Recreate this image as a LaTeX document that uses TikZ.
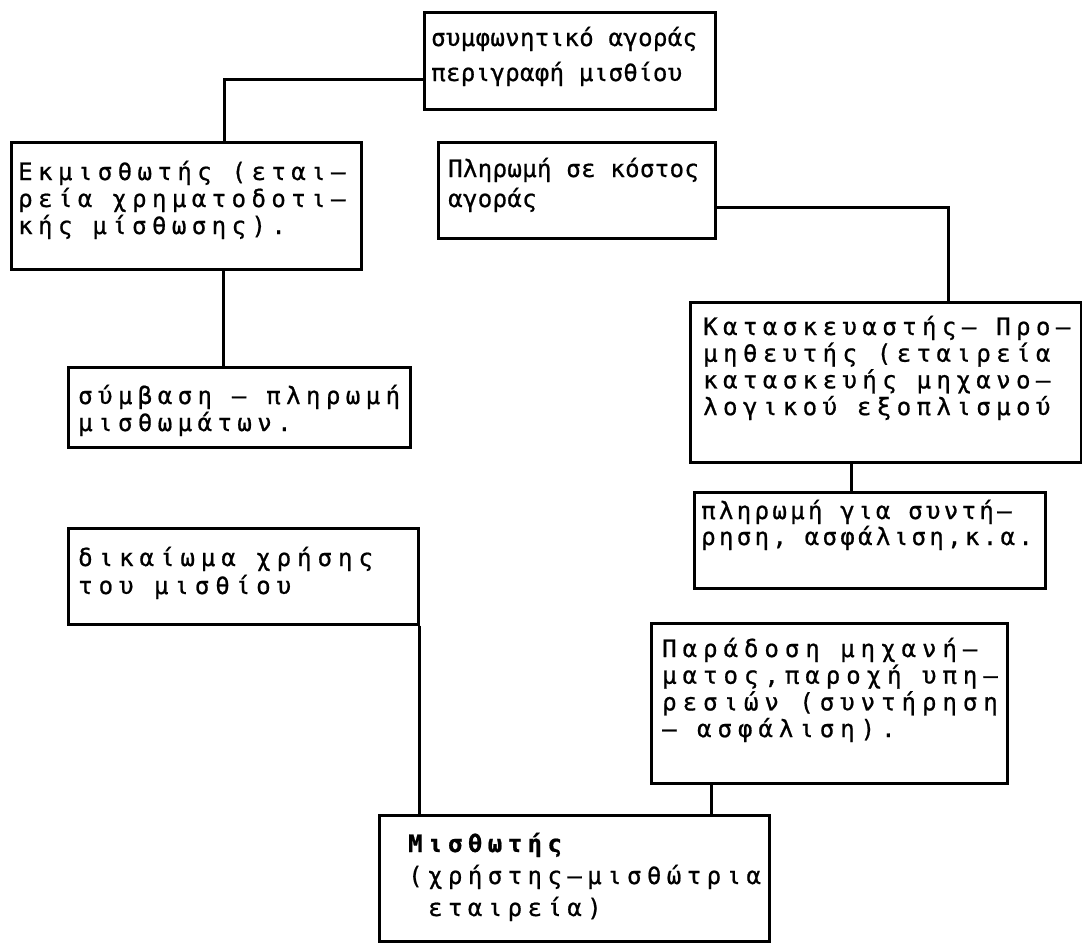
\documentclass[tikz,border=0pt]{standalone}
\usepackage{fontspec}
\newfontfamily\twfont[LetterSpace=22.7,FakeBold=0.8]{DejaVu Sans Mono}
\newfontfamily\twwide[LetterSpace=25,FakeBold=0.8]{DejaVu Sans Mono}
\newfontfamily\twmid[LetterSpace=14,FakeBold=0.8]{DejaVu Sans Mono}
\newfontfamily\twnarrow[LetterSpace=1.5,FakeBold=0.8]{DejaVu Sans Mono}
\newcommand\tline[1]{\hbox{#1}}
\begin{document}
\begin{tikzpicture}[x=1pt,y=-1pt,
  box/.style={draw, line width=2.5pt, inner sep=0pt, anchor=north west},
  txt/.style={anchor=base west, inner sep=0pt, font=\twfont\fontsize{24}{27}\selectfont},
  link/.style={line width=2.5pt}]
\useasboundingbox (0,0) rectangle (1082,943);
% boxes
\node[box, minimum width=291pt, minimum height=97pt]  (b1) at (423,11) {};
\node[box, minimum width=350pt, minimum height=127pt] (b2) at (10,141) {};
\node[box, minimum width=342pt, minimum height=80pt]  (b3) at (67,366) {};
\node[box, minimum width=277pt, minimum height=96pt]  (b4) at (437,141) {};
\node[box, minimum width=391pt, minimum height=160pt] (b5) at (689,301) {};
\node[box, minimum width=351pt, minimum height=96pt]  (b6) at (693,491) {};
\node[box, minimum width=350pt, minimum height=96pt]  (b7) at (67,527) {};
\node[box, minimum width=356pt, minimum height=160pt] (b8) at (650,622) {};
\node[box, minimum width=390pt, minimum height=126pt] (b9) at (378,814) {};
% texts
\node[txt, font=\twnarrow\fontsize{24}{35}\selectfont] (t1) at (431,46)
  {\vtop{\tline{συμφωνητικό αγοράς}\tline{περιγραφή μισθίου}}};
\node[txt] (t2) at (18,180)
  {\vtop{\tline{Εκμισθωτής (εται–}\tline{ρεία χρηματοδοτι–}\tline{κής μίσθωσης).}}};
\node[txt, font=\twfont\fontsize{24}{27}\selectfont] (t3) at (78,404)
  {\vtop{\tline{σύμβαση – πληρωμή}\tline{μισθωμάτων.}}};
\node[txt, font=\twnarrow\fontsize{24}{30}\selectfont] (t4) at (448,177)
  {\vtop{\tline{Πληρωμή σε κόστος}\tline{αγοράς}}};
\node[txt, font=\twfont\fontsize{24}{26.7}\selectfont] (t5) at (703,335)
  {\vtop{\tline{Κατασκευαστής– Προ–}\tline{μηθευτής (εταιρεία}\tline{κατασκευής μηχανο–}\tline{λογικού εξοπλισμού}}};
\node[txt, font=\twmid\fontsize{24}{26}\selectfont] (t6) at (701,519)
  {\vtop{\tline{πληρωμή για συντή–}\tline{ρηση, ασφάλιση,κ.α.}}};
\node[txt, font=\twwide\fontsize{24}{28}\selectfont] (t7) at (78,566)
  {\vtop{\tline{δικαίωμα χρήσης}\tline{του μισθίου}}};
\node[txt, font=\twwide\fontsize{24}{26.7}\selectfont] (t8) at (662,657)
  {\vtop{\tline{Παράδοση μηχανή–}\tline{ματος,παροχή υπη–}\tline{ρεσιών (συντήρηση}\tline{– ασφάλιση).}}};
\node[txt, font=\twfont\fontsize{24}{32}\selectfont] (t9) at (408,852)
  {\vtop{\tline{\bfseries Μισθωτής}\tline{(χρήστης–μισθώτρια}\tline{\hspace{19.9pt}εταιρεία)}}};
% connectors
\draw[link] ([yshift=31pt]b1.south west) -| ([xshift=38pt]b2.north);
\draw[link] ([xshift=37pt]b2.south) -- ([xshift=37pt]b2.south |- b3.north);
\draw[link] ([yshift=32pt]b4.south east) -| ([xshift=62.5pt]b5.north);
\draw[link] ([xshift=-34.5pt]b5.south) -- ([xshift=-34.5pt]b5.south |- b6.north);
\draw[link] (b7.south east) -- (b7.south east |- b9.north);
\draw[link] ([xshift=-118pt]b8.south) -- ([xshift=-118pt]b8.south |- b9.north);
\end{tikzpicture}
\end{document}
